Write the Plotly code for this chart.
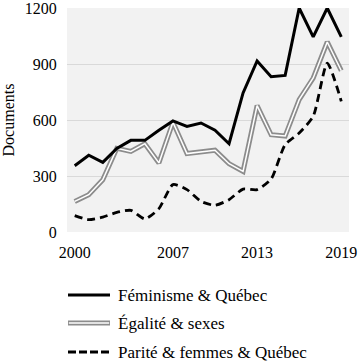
import plotly.graph_objects as go

years = list(range(2000, 2020))
feminisme = [355, 411, 373, 448, 491, 491, 545, 595, 566, 584, 545, 473, 745, 916, 832, 839, 1200, 1045, 1200, 1045]
egalite = [164, 200, 280, 448, 432, 473, 370, 588, 420, 429, 438, 366, 325, 677, 521, 514, 709, 825, 1018, 864]
parite = [88, 66, 80, 105, 116, 70, 125, 254, 227, 164, 143, 173, 230, 227, 284, 468, 530, 620, 905, 700]
names = ["Féminisme & Québec", "Égalité & sexes", "Parité & femmes & Québec"]
xticks = [2000, 2007, 2013, 2019]
yticks = [0, 300, 600, 900, 1200]

FONT = "Liberation Serif"
fig = go.Figure()
fig.add_trace(go.Scatter(x=years, y=parite, mode="lines", name=names[2],
                         line=dict(color="black", width=2.8, dash="8px,5px", shape="spline", smoothing=0.6),
                         showlegend=False))
fig.add_trace(go.Scatter(x=years, y=egalite, mode="lines", name=names[1],
                         line=dict(color="#8c8c8c", width=5), showlegend=False))
fig.add_trace(go.Scatter(x=years, y=egalite, mode="lines", name=names[1] + " (inner)",
                         line=dict(color="white", width=1.5), showlegend=False, hoverinfo="skip"))
fig.add_trace(go.Scatter(x=years, y=feminisme, mode="lines", name=names[0],
                         line=dict(color="black", width=3), showlegend=False))

rows = [295, 323, 352]
def to_paper_y(ypx):
    return (232 - ypx) / (232 - 8)
def to_paper_x(xpx):
    return (xpx - 67) / (349 - 67)

shapes = []
annotations = []
x0, x1 = to_paper_x(68), to_paper_x(110)
shapes.append(dict(type="line", xref="paper", yref="paper", x0=x0, x1=x1,
                   y0=to_paper_y(rows[0]), y1=to_paper_y(rows[0]), line=dict(color="black", width=3)))
shapes.append(dict(type="line", xref="paper", yref="paper", x0=x0, x1=x1,
                   y0=to_paper_y(rows[1]), y1=to_paper_y(rows[1]), line=dict(color="#8c8c8c", width=5)))
shapes.append(dict(type="line", xref="paper", yref="paper", x0=x0 + 0.003, x1=x1 - 0.003,
                   y0=to_paper_y(rows[1]), y1=to_paper_y(rows[1]), line=dict(color="white", width=1.5)))
shapes.append(dict(type="line", xref="paper", yref="paper", x0=x0, x1=x1,
                   y0=to_paper_y(rows[2]), y1=to_paper_y(rows[2]), line=dict(color="black", width=2.8, dash="8px,3px")))
for r, n in zip(rows, names):
    annotations.append(dict(x=to_paper_x(116), y=to_paper_y(r), xref="paper", yref="paper",
                            text=n, showarrow=False, xanchor="left", yanchor="middle",
                            font=dict(family=FONT, size=17, color="black")))

fig.update_layout(
    width=360, height=363,
    margin=dict(l=67, r=11, t=8, b=131, autoexpand=False),
    paper_bgcolor="white", plot_bgcolor="#f2f2f2",
    font=dict(family=FONT, size=16, color="black"),
    shapes=shapes, annotations=annotations,
    showlegend=False,
)
fig.update_xaxes(range=[1999.45, 2019.55], tickvals=xticks, ticktext=[str(t) for t in xticks],
                 showgrid=False, zeroline=False, ticks="outside", ticklen=6, tickcolor="rgba(0,0,0,0)",
                 tickfont=dict(family=FONT, size=16), automargin=False, ticklabeloverflow="allow")
fig.update_yaxes(range=[0, 1200], tickvals=yticks, showgrid=True, gridcolor="#d9d9d9", gridwidth=1,
                 zeroline=False, ticks="outside", ticklen=6, tickcolor="rgba(0,0,0,0)",
                 tickfont=dict(family=FONT, size=16), automargin=False, ticklabeloverflow="allow",
                 title=dict(text="Documents", font=dict(family=FONT, size=16), standoff=6))

fig.write_html("out.html", config={"displayModeBar": False},
               post_script="document.body.style.margin='0';document.body.style.overflow='hidden';")
